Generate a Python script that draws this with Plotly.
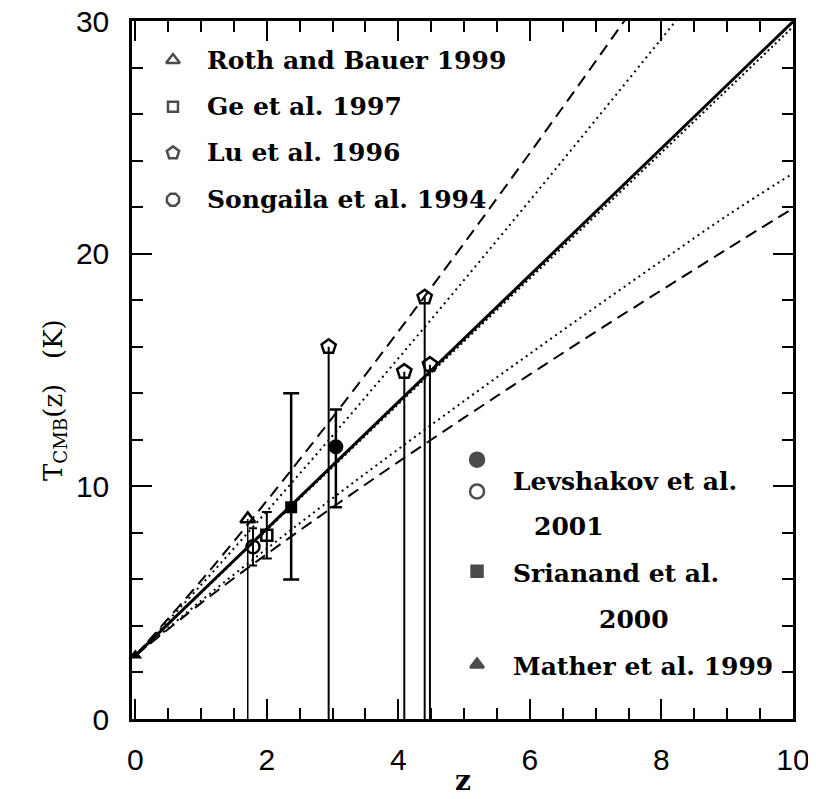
import plotly.graph_objects as go

# ---------------- data ----------------
# model curves T(z), sampled at these redshifts
curve_z = [0, 1, 2, 3, 4, 5, 6, 7, 8, 9, 10]
solid_T = [2.725, 5.45, 8.175, 10.9, 13.625, 16.35, 19.075, 21.8, 24.525, 27.25, 29.975]
near_solid_dot_T = [2.725, 5.43, 8.13, 10.83, 13.54, 16.24, 18.94, 21.64, 24.35, 27.05, 29.75]
upper_dash_T = [2.725, 5.94, 9.38, 12.96, 16.66, 20.45, 24.33, 28.27, 32.27, 36.35, 40.4]
upper_dot_T = [2.725, 5.76, 8.93, 12.18, 15.50, 18.87, 22.29, 25.75, 29.24, 32.75, 36.3]
lower_dot_T = [2.725, 5.08, 7.32, 9.49, 11.60, 13.67, 15.70, 17.71, 19.69, 21.64, 23.45]
lower_dash_T = [2.725, 4.98, 7.09, 9.10, 11.05, 12.95, 14.81, 16.64, 18.43, 20.20, 21.95]

# measurements
roth_z, roth_T = [1.71], [8.6]                      # upper limit
ge_z, ge_T, ge_err = [2.0], [7.9], [1.0]
lu_z = [2.94, 4.09, 4.40, 4.48]                      # upper limits
lu_T = [16.0, 14.93, 18.13, 15.23]
songaila_z, songaila_T, songaila_err = [1.79], [7.4], [0.8]
levshakov_z, levshakov_T = [3.05], [11.7]
levshakov_up, levshakov_dn = [1.6], [2.6]
srianand_z, srianand_T = [2.37], [9.1]
srianand_up, srianand_dn = [4.9], [3.1]
mather_z, mather_T = [0.0], [2.725]

x_ticks = [0, 2, 4, 6, 8, 10]
y_ticks = [0, 10, 20, 30]

legend_top = ["Roth and Bauer 1999", "Ge et al. 1997", "Lu et al. 1996", "Songaila et al. 1994"]
legend_bottom = ["Levshakov et al.", "2001", "Srianand et al.", "2000", "Mather et al. 1999"]

# ---------------- figure ----------------
fig = go.Figure()
BLK = "black"

def curve(T, dash, width, shape="spline"):
    fig.add_trace(go.Scatter(x=curve_z, y=T, mode="lines",
                             line=dict(color=BLK, width=width, dash=dash, shape=shape),
                             showlegend=False, hoverinfo="skip"))

curve(upper_dash_T, "12px,7px", 2)
curve(upper_dot_T, "2px,4px", 2)
curve(lower_dot_T, "2px,4px", 2)
curve(lower_dash_T, "12px,7px", 2)
curve(near_solid_dot_T, "2px,3px", 2, "linear")
curve(solid_T, "solid", 3, "linear")

# upper limits drawn as lines down to zero
fig.add_trace(go.Scatter(x=roth_z, y=roth_T, mode="markers",
                         marker=dict(symbol="triangle-up-open", size=13, color=BLK, line=dict(width=2.5)),
                         error_y=dict(type="data", symmetric=False, array=[0] * len(roth_T), arrayminus=roth_T,
                                      width=0, thickness=1.5, color=BLK), showlegend=False))
fig.add_trace(go.Scatter(x=lu_z, y=lu_T, mode="markers",
                         marker=dict(symbol="pentagon-open", size=15, color=BLK, line=dict(width=2.5)),
                         error_y=dict(type="data", symmetric=False, array=[0] * len(lu_T), arrayminus=lu_T,
                                      width=0, thickness=2, color=BLK), showlegend=False))
fig.add_trace(go.Scatter(x=songaila_z, y=songaila_T, mode="markers",
                         marker=dict(symbol="circle-open", size=13, color=BLK, line=dict(width=2.5)),
                         error_y=dict(type="data", array=songaila_err, width=4, thickness=2, color=BLK),
                         showlegend=False))
fig.add_trace(go.Scatter(x=ge_z, y=ge_T, mode="markers",
                         marker=dict(symbol="square-open", size=11, color=BLK, line=dict(width=2.5)),
                         error_y=dict(type="data", array=ge_err, width=5, thickness=2, color=BLK),
                         showlegend=False))
fig.add_trace(go.Scatter(x=srianand_z, y=srianand_T, mode="markers",
                         marker=dict(symbol="square", size=12, color=BLK),
                         error_y=dict(type="data", symmetric=False, array=srianand_up, arrayminus=srianand_dn,
                                      width=8, thickness=2.5, color=BLK), showlegend=False))
fig.add_trace(go.Scatter(x=levshakov_z, y=levshakov_T, mode="markers",
                         marker=dict(symbol="circle", size=15, color=BLK),
                         error_y=dict(type="data", symmetric=False, array=levshakov_up, arrayminus=levshakov_dn,
                                      width=6, thickness=2.5, color=BLK), showlegend=False))
fig.add_trace(go.Scatter(x=mather_z, y=mather_T, mode="markers", cliponaxis=False,
                         marker=dict(symbol="triangle-up", size=12, color=BLK), showlegend=False))

# ---------------- key (on a hidden 0..1 axis pair) ----------------
key_sym = ["triangle-up-open", "square-open", "pentagon-open", "octagon-open",
           "circle", "circle-open", "square", "triangle-up"]
key_x = [0.062] * 4 + [0.522] * 4
key_y = [0.944, 0.877, 0.811, 0.744, 0.3715, 0.326, 0.2116, 0.078]
key_size = [12, 10, 13, 13, 14, 14, 11, 12]
fig.add_trace(go.Scatter(x=key_x, y=key_y, xaxis="x2", yaxis="y2", mode="markers",
                         marker=dict(symbol=key_sym, size=key_size, color=BLK, line=dict(width=2.5, color=BLK)),
                         showlegend=False, hoverinfo="skip"))

TXT = dict(family="DejaVu Serif", size=25, color=BLK, weight="bold")
ann = []
for lab, yy in zip(legend_top, [0.944, 0.877, 0.811, 0.744]):
    ann.append(dict(x=0.110, y=yy, xref="paper", yref="paper", text=lab, showarrow=False,
                    xanchor="left", yanchor="middle", font=TXT))
for lab, xx, yy in zip(legend_bottom, [0.574, 0.605, 0.574, 0.703, 0.574],
                       [0.340, 0.276, 0.209, 0.1425, 0.0756]):
    ann.append(dict(x=xx, y=yy, xref="paper", yref="paper", text=lab, showarrow=False,
                    xanchor="left", yanchor="middle", font=TXT))
# axis titles
ann.append(dict(x=0.5008, y=-0.088, xref="paper", yref="paper", text="z", showarrow=False,
                xanchor="center", yanchor="middle",
                font=dict(family="DejaVu Serif", size=28, color=BLK, weight="bold")))
ann.append(dict(x=-0.118, y=0.457, xref="paper", yref="paper",
                text="T<sub>CMB</sub>(z)   (K)", textangle=-90, showarrow=False,
                xanchor="center", yanchor="middle",
                font=dict(family="DejaVu Serif", size=26, color=BLK)))

AX = dict(showline=True, linewidth=2.5, linecolor=BLK, mirror="allticks", ticks="inside",
          ticklen=20, tickwidth=2, tickcolor=BLK, showgrid=False, zeroline=False, automargin=False,
          ticklabeloverflow="allow",
          tickfont=dict(family="Liberation Sans", size=30, color=BLK))

# the page adds an 8 px body margin, so the margins below are shifted by 8 px
fig.update_layout(
    width=816, height=799,
    margin=dict(l=124, r=31, t=13, b=88, autoexpand=False),
    paper_bgcolor="white", plot_bgcolor="white",
    xaxis=dict(range=[-0.05, 10], tickvals=x_ticks, ticklabelstandoff=12,
               minor=dict(dtick=0.5, ticks="inside", ticklen=11, tickwidth=2, tickcolor=BLK), **AX),
    yaxis=dict(range=[0, 30], tickvals=y_ticks, ticklabelstandoff=14,
               minor=dict(dtick=2, ticks="inside", ticklen=11, tickwidth=2, tickcolor=BLK), **AX),
    xaxis2=dict(range=[0, 1], overlaying="x", visible=False),
    yaxis2=dict(range=[0, 1], overlaying="y", visible=False),
    annotations=ann,
)

fig.write_html("out.html")
